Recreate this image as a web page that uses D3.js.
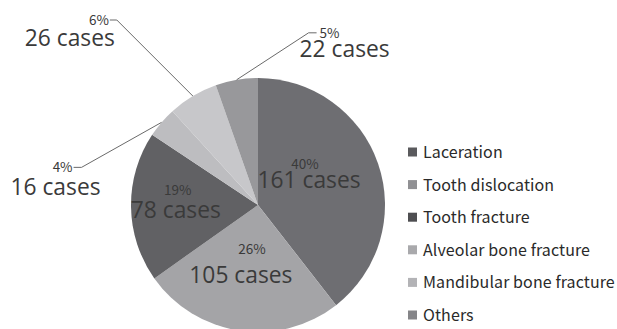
<!DOCTYPE html>
<html>
<head>
<meta charset="utf-8">
<script src="https://cdn.jsdelivr.net/npm/d3@7"></script>
<style>
  html, body { margin: 0; padding: 0; background: #fff; }
  svg { display: block; }
</style>
</head>
<body>
<svg id="chart" width="617" height="329"></svg>
<script>
// ---- data ----
const categories = ["Laceration", "Tooth dislocation", "Tooth fracture", "Alveolar bone fracture", "Mandibular bone fracture", "Others"];
const cases = [161, 105, 78, 16, 26, 22];
const percentLabels = ["40%", "26%", "19%", "4%", "6%", "5%"];
const caseLabels = ["161 cases", "105 cases", "78 cases", "16 cases", "26 cases", "22 cases"];

// ---- styling / layout ----
const colors = ["#6e6e72", "#a4a4a7", "#616164", "#bdbdc0", "#c7c7ca", "#98989b"];
const legendColors = ["#5a5a5d", "#909093", "#4e4e51", "#a9a9ac", "#b3b3b6", "#858588"];
const cx = 258, cy = 205, R = 127;
const inside = [true, true, true, false, false, false];
// inner label offsets from centroid at 0.6R: [pctDx, pctDy, caseDx, caseDy]
const innerPos = {
  0: [-25, -11, -21, 8],
  1: [5, -26, -6, 3],
  2: [-4, -11, -6, 12]
};
// outer labels: leader elbow offset from slice edge, horizontal tail, text offsets from tail end
const outerLayout = {
  3: { elbow: [-80, 45], endDx: -8, pctDx: -1, caseAnchor: "end", caseDx: 27, caseDy: 28 },
  4: { elbow: [-76, -76], endDx: -7, pctDx: -1, caseAnchor: "end", caseDx: 5, caseDy: 26 },
  5: { elbow: [72, -47], endDx: 8, pctDx: 3, caseAnchor: "start", caseDx: -17, caseDy: 24 }
};

const svg = d3.select("#chart");
const pie = d3.pie().sort(null).value(d => d)(cases);
const arc = d3.arc().innerRadius(0).outerRadius(R);
const g = svg.append("g").attr("transform", `translate(${cx},${cy})`);

g.selectAll("path.slice").data(pie).enter().append("path")
  .attr("class", "slice")
  .attr("d", arc)
  .attr("fill", (d, i) => colors[i]);

const pctFont = "'Noto Sans CJK JP', 'Noto Sans', sans-serif";
const caseFont = "'Open Sans', 'Noto Sans', sans-serif";
const pctSize = 13.5, caseSize = 22.8, textColor = "#3a3a3a";

// inner labels
const labelArc = d3.arc().innerRadius(R * 0.6).outerRadius(R * 0.6);
pie.forEach((d, i) => {
  if (!inside[i]) return;
  const [pdx, pdy, cdx, cdy] = innerPos[i];
  const c = labelArc.centroid(d);
  g.append("text").attr("x", c[0] + pdx).attr("y", c[1] + pdy)
    .attr("text-anchor", "middle").attr("font-family", pctFont).attr("font-size", pctSize)
    .attr("fill", textColor).text(percentLabels[i]);
  g.append("text").attr("x", c[0] + cdx).attr("y", c[1] + cdy)
    .attr("text-anchor", "middle").attr("font-family", caseFont).attr("font-size", caseSize)
    .attr("fill", textColor).text(caseLabels[i]);
});

// outer labels with leader lines
const edgeArc = d3.arc().innerRadius(R).outerRadius(R);
pie.forEach((d, i) => {
  if (inside[i]) return;
  const L = outerLayout[i];
  const p0 = edgeArc.centroid(d);
  const p1 = [p0[0] + L.elbow[0], p0[1] + L.elbow[1]];
  const p2 = [p1[0] + L.endDx, p1[1]];
  g.append("path")
    .attr("d", d3.line()([p0, p1, p2]))
    .attr("fill", "none").attr("stroke", "#6a6a6a").attr("stroke-width", 1);
  const anchor = L.endDx < 0 ? "end" : "start";
  g.append("text").attr("x", p2[0] + L.pctDx).attr("y", p2[1] + 5)
    .attr("text-anchor", anchor).attr("font-family", pctFont).attr("font-size", pctSize)
    .attr("fill", textColor).text(percentLabels[i]);
  g.append("text").attr("x", p2[0] + L.caseDx).attr("y", p2[1] + L.caseDy)
    .attr("text-anchor", L.caseAnchor).attr("font-family", caseFont).attr("font-size", caseSize)
    .attr("fill", textColor).text(caseLabels[i]);
});

// legend
const lg = svg.append("g").attr("transform", "translate(408,152)");
const rowH = 32.6;
categories.forEach((c, i) => {
  const row = lg.append("g").attr("transform", `translate(0,${i * rowH})`);
  row.append("rect").attr("x", 0).attr("y", -4.5).attr("width", 9).attr("height", 9)
    .attr("fill", legendColors[i]);
  row.append("text").attr("x", 15).attr("y", 6)
    .attr("font-family", pctFont).attr("font-size", 16)
    .attr("letter-spacing", 0.1)
    .attr("fill", "#2a2a2a").text(c);
});
</script>
</body>
</html>
